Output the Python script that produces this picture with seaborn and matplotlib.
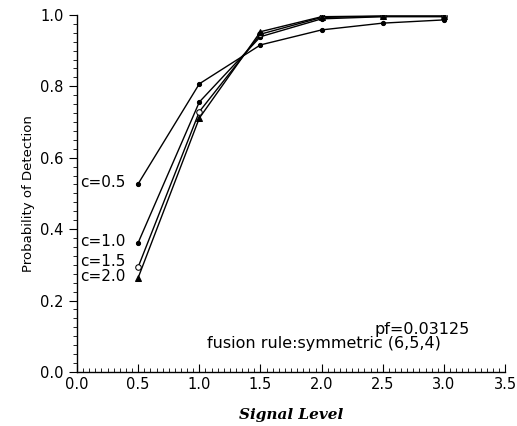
import matplotlib
matplotlib.use("Agg")
import matplotlib.pyplot as plt
import seaborn as sns
import pandas as pd
from matplotlib.ticker import MultipleLocator

signal = [0.5, 1.0, 1.5, 2.0, 2.5, 3.0]
pd_c05 = [0.527, 0.807, 0.916, 0.958, 0.977, 0.986]
pd_c10 = [0.362, 0.756, 0.939, 0.989, 0.995, 0.995]
pd_c15 = [0.294, 0.729, 0.946, 0.993, 0.996, 0.996]
pd_c20 = [0.264, 0.711, 0.953, 0.995, 0.997, 0.997]
labels = ["c=0.5", "c=1.0", "c=1.5", "c=2.0"]
label_y = [0.530, 0.365, 0.308, 0.266]

series = [pd_c05, pd_c10, pd_c15, pd_c20]
rows = []
for lab, vals in zip(labels, series):
    for x, y in zip(signal, vals):
        rows.append({"Signal Level": x, "Pd": y, "c": lab})
df = pd.DataFrame(rows)

sns.set_style("ticks")
plt.rcParams['font.family'] = ['DejaVu Sans']
plt.rcParams['text.color'] = 'black'
plt.rcParams['axes.labelcolor'] = 'black'
plt.rcParams['xtick.color'] = 'black'
plt.rcParams['ytick.color'] = 'black'

fig = plt.figure(figsize=(5.17, 4.26), dpi=100)
ax = fig.add_axes([0.149, 0.127, 0.828, 0.838])

markers = {"c=0.5": "o", "c=1.0": "o", "c=1.5": "o", "c=2.0": "^"}
msizes = {"c=0.5": 3, "c=1.0": 3, "c=1.5": 4, "c=2.0": 4}
for lab in labels:
    sub = df[df["c"] == lab]
    mfc = "white" if lab == "c=1.5" else "black"
    sns.lineplot(data=sub, x="Signal Level", y="Pd", ax=ax, color="black",
                 lw=1.0, marker=markers[lab], markersize=msizes[lab],
                 markerfacecolor=mfc, markeredgecolor="black", legend=False)

# curve labels
for lab, ly in zip(labels, label_y):
    ax.text(0.40, ly, lab, ha="right", va="center", fontsize=11)

ax.set_xlim(0, 3.5)
ax.set_ylim(0, 1.0)
ax.xaxis.set_major_locator(MultipleLocator(0.5))
ax.xaxis.set_minor_locator(MultipleLocator(0.05))
ax.yaxis.set_major_locator(MultipleLocator(0.2))
ax.yaxis.set_minor_locator(MultipleLocator(0.025))
ax.xaxis.set_major_formatter(matplotlib.ticker.FormatStrFormatter("%.1f"))
ax.yaxis.set_major_formatter(matplotlib.ticker.FormatStrFormatter("%.1f"))
ax.tick_params(axis="x", which="major", direction="in", length=6, width=0.8, labelsize=10.5)
ax.tick_params(axis="x", which="minor", direction="in", length=3, width=0.6)
ax.tick_params(axis="y", which="major", direction="out", length=6, width=0.8, labelsize=10.5)
ax.tick_params(axis="y", which="minor", direction="out", length=3, width=0.6)
sns.despine(ax=ax)
for s in ["left", "bottom"]:
    ax.spines[s].set_linewidth(1.0)
    ax.spines[s].set_color("black")

ax.set_xlabel("Signal Level", fontsize=11, fontweight="bold", fontstyle="italic",
              family="DejaVu Serif", labelpad=12)
ax.set_ylabel("Probability of Detection", fontsize=9.5)

ax.text(0.917, 0.118, "pf=0.03125", transform=ax.transAxes, ha="right",
        va="center", fontsize=11.5)
ax.text(0.85, 0.080, "fusion rule:symmetric (6,5,4)", transform=ax.transAxes,
        ha="right", va="center", fontsize=11.5)

fig.savefig("out.png", dpi=100)
